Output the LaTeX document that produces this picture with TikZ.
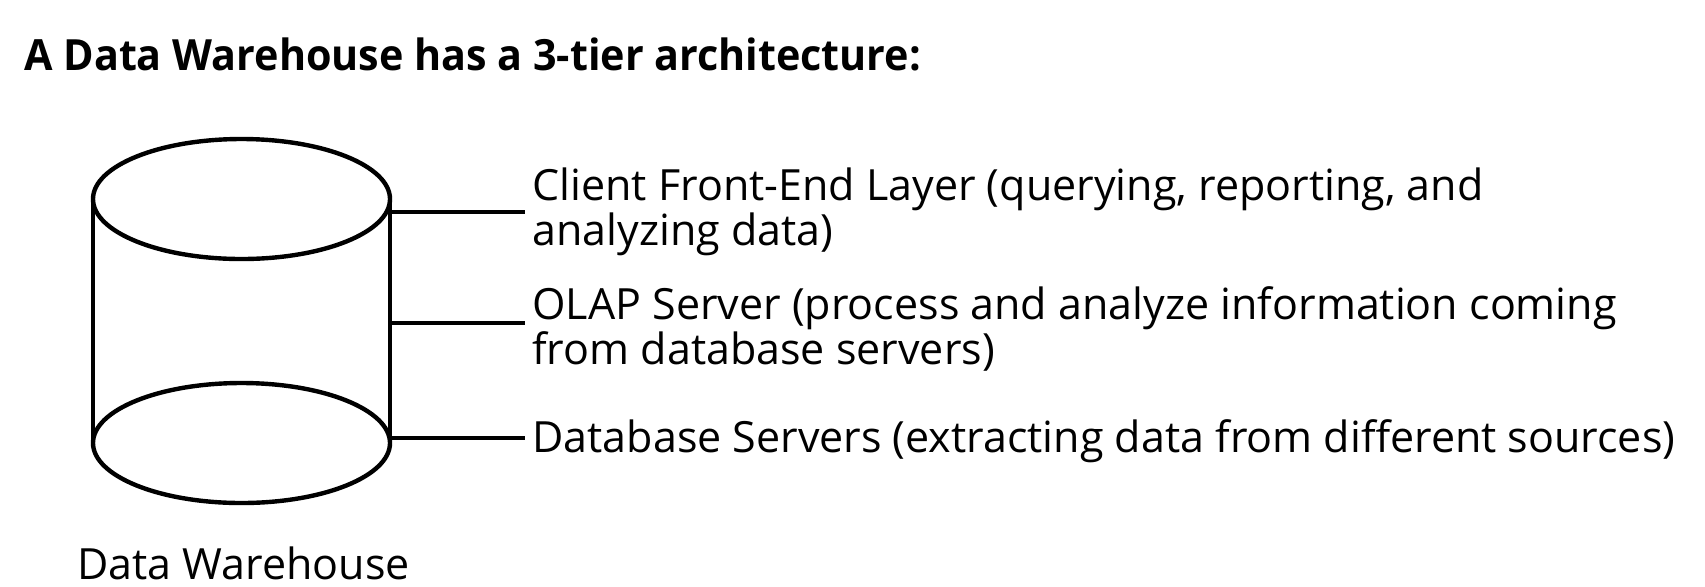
\documentclass[tikz,border=0pt]{standalone}
\usepackage{fontspec}
\setmainfont{Open Sans}
\newfontfamily\titlefont[FakeStretch=0.96]{Open Sans}
\begin{document}
\begin{tikzpicture}[x=0.5pt,y=-0.5pt,
  txt/.style={inner sep=0pt,anchor=base west,font=\fontsize{21.5}{24}\selectfont},
  ttl/.style={inner sep=0pt,anchor=base west,font=\titlefont\fontsize{21.5}{24}\selectfont\bfseries},
  ln/.style={line width=2.2pt}]
\useasboundingbox (0,0) rectangle (1705,586);
% title
\node[ttl] (title) at (24,70) {A Data Warehouse has a 3-tier architecture:};
% cylinder
\coordinate (tl) at (93,199);
\coordinate (tr) at (390,199);
\coordinate (bl) at (93,443);
\coordinate (br) at (390,443);
\draw[ln] (241.5,199) ellipse [x radius=148.5, y radius=60];
\draw[ln] (241.5,443) ellipse [x radius=148.5, y radius=60];
\draw[ln] (tl) -- (bl);
\draw[ln] (tr) -- (br);
\node[txt] (dwlabel) at (77,579) {Data Warehouse};
% tiers
\node[txt] (t1a) at (532,200) {Client Front-End Layer (querying, reporting, and};
\node[txt] (t1b) at (532,245) {analyzing data)};
\node[txt] (t2a) at (532,319) {OLAP Server (process and analyze information coming};
\node[txt] (t2b) at (532,364) {from database servers)};
\node[txt] (t3a) at (532,452) {Database Servers (extracting data from different sources)};
\coordinate (c1) at (390,212);
\coordinate (c2) at (390,323);
\coordinate (c3) at (390,438);
\coordinate (e1) at (525,212);
\coordinate (e2) at (525,323);
\coordinate (e3) at (525,438);
\draw[ln] (c1) -- (e1);
\draw[ln] (c2) -- (e2);
\draw[ln] (c3) -- (e3);
\end{tikzpicture}
\end{document}
